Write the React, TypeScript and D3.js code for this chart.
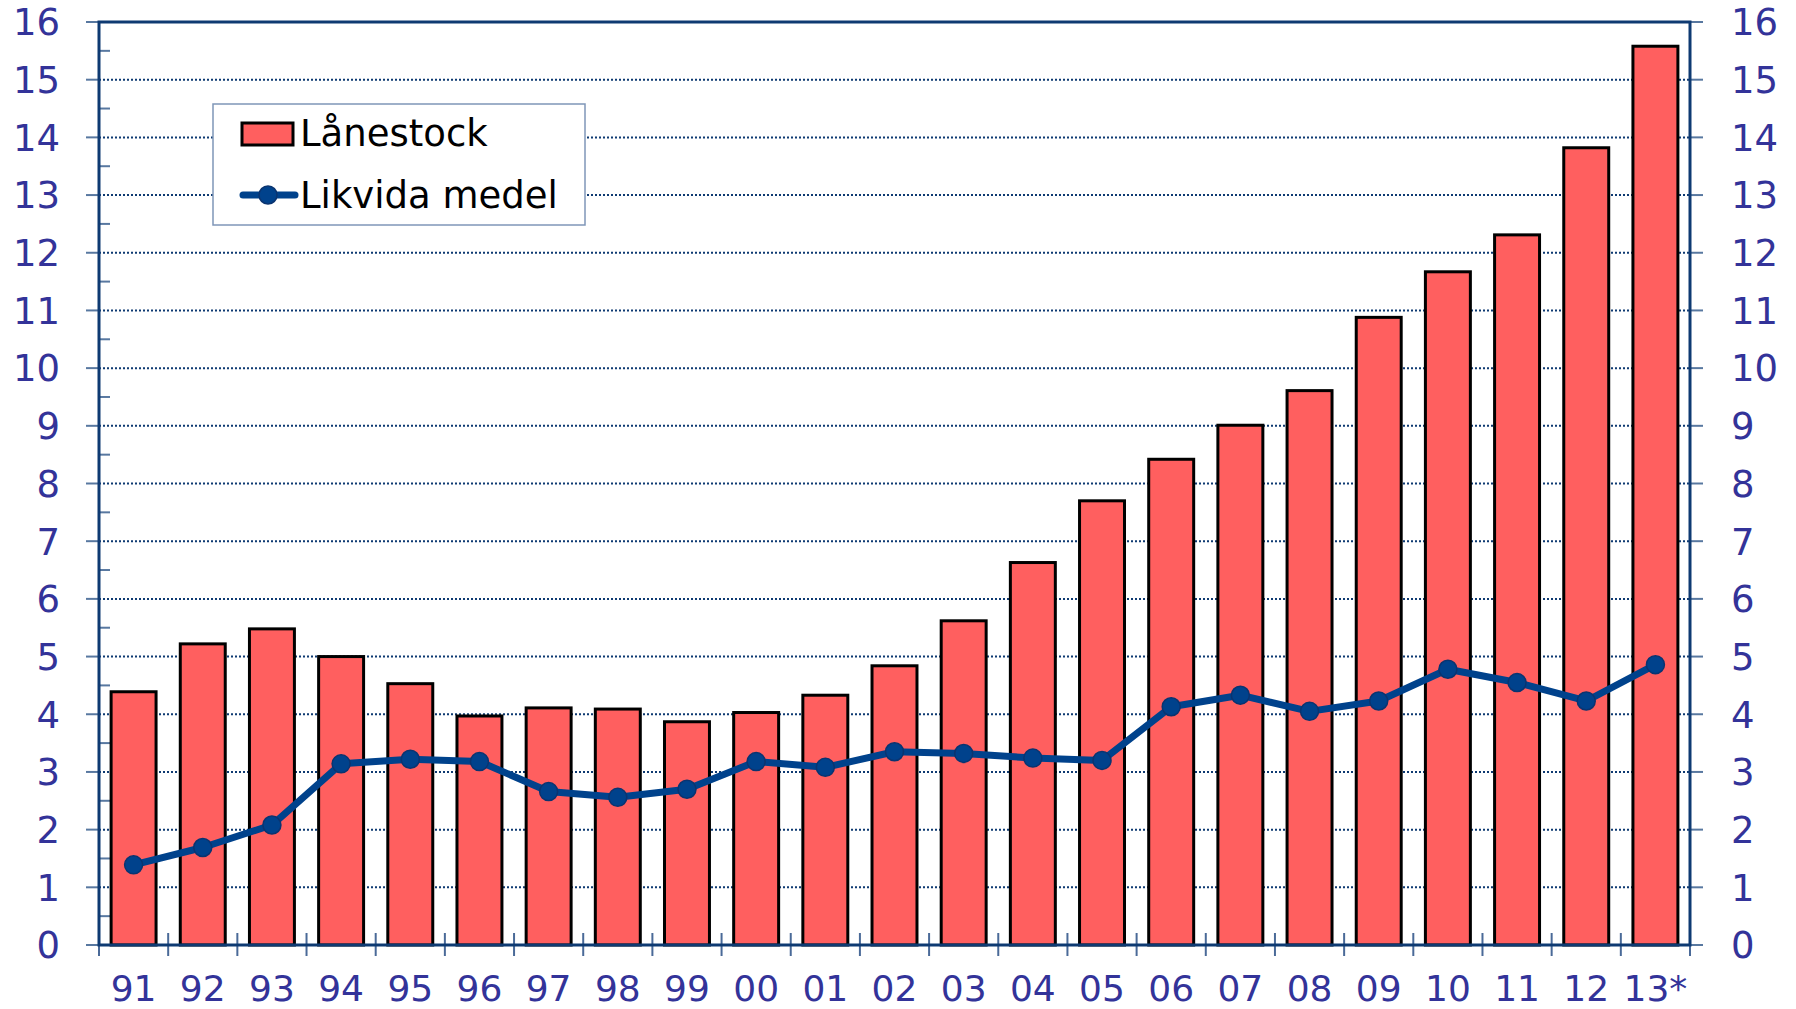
import React, { useEffect } from "react";
import * as d3 from "d3";

const categories = ["91","92","93","94","95","96","97","98","99","00","01","02","03","04","05","06","07","08","09","10","11","12","13*"];
const lanestock = [4.39,5.22,5.48,5.0,4.53,3.97,4.11,4.09,3.87,4.03,4.33,4.84,5.62,6.63,7.7,8.42,9.01,9.61,10.88,11.67,12.31,13.82,15.58];
const likvida = [1.39,1.69,2.08,3.14,3.22,3.18,2.66,2.56,2.7,3.18,3.08,3.35,3.32,3.24,3.2,4.13,4.33,4.05,4.23,4.78,4.55,4.23,4.86];
const yTicks = d3.range(0, 17, 1);
const legendLabels = ["Lånestock", "Likvida medel"];

const W = 1796, H = 1009;
const left = 99, right = 1690, top = 22, bottom = 945;
const labelColor = "#333399";
const frameColor = "#0E3A72";
const lineColor = "#00428C";
const barColor = "#FF5F5F";
const font = "'DejaVu Sans', Verdana, sans-serif";

export default function App() {
  useEffect(() => { document.body.style.margin = "0"; }, []);
  const x = d3.scaleBand<string>().domain(categories).range([left, right]).padding(0);
  const y = d3.scaleLinear().domain([0, 16]).range([bottom, top]);
  const bw = x.bandwidth() * 0.65;
  const cx = (c: string) => (x(c) as number) + x.bandwidth() / 2;
  const line = d3.line<number>().x((_, i) => cx(categories[i])).y(d => y(d));
  const minor = d3.range(0.5, 16, 1);
  const bounds = categories.map(c => x(c) as number).concat([right]);

  return (
    <svg width={W} height={H} style={{ display: "block", background: "#fff" }}>
      {yTicks.filter(t => t > 0 && t < 16).map(t => (
        <line key={"g" + t} x1={left} x2={right} y1={y(t)} y2={y(t)} stroke={frameColor} strokeWidth={2} strokeDasharray="2 2" />
      ))}
      {minor.map(t => (
        <line key={"m" + t} x1={left} x2={left + 11} y1={y(t)} y2={y(t)} stroke="#5878A0" strokeWidth={2} />
      ))}
      {yTicks.map(t => (
        <g key={"t" + t}>
          <line x1={left - 13} x2={left} y1={y(t)} y2={y(t)} stroke="#5878A0" strokeWidth={2} />
          <line x1={right} x2={right + 13} y1={y(t)} y2={y(t)} stroke="#5878A0" strokeWidth={2} />
          <text x={60} y={y(t)} dy="0.36em" textAnchor="end" fill={labelColor} fontFamily={font} fontSize={37}>{t}</text>
          <text x={1731} y={y(t)} dy="0.36em" textAnchor="start" fill={labelColor} fontFamily={font} fontSize={37}>{t}</text>
        </g>
      ))}
      {bounds.map((b, i) => (
        <line key={"b" + i} x1={b} x2={b} y1={bottom - 12} y2={bottom + 11} stroke="#4A6A98" strokeWidth={2} />
      ))}
      {lanestock.map((v, i) => (
        <rect key={"r" + i} x={cx(categories[i]) - bw / 2} y={y(v)} width={bw} height={bottom - y(v)} fill={barColor} stroke="#000" strokeWidth={3} />
      ))}
      <rect x={left} y={top} width={right - left} height={bottom - top} fill="none" stroke={frameColor} strokeWidth={3} />
      <path d={line(likvida) || ""} fill="none" stroke={lineColor} strokeWidth={7} strokeLinejoin="round" />
      {likvida.map((v, i) => (
        <circle key={"c" + i} cx={cx(categories[i])} cy={y(v)} r={9} fill={lineColor} stroke="#0A3470" strokeWidth={1.5} />
      ))}
      {categories.map(c => (
        <text key={"x" + c} x={cx(c)} y={1001} textAnchor="middle" fill={labelColor} fontFamily={font} fontSize={36}>{c}</text>
      ))}
      <rect x={213} y={104} width={372} height={121} fill="#fff" stroke="#7F96B8" strokeWidth={1.5} />
      <rect x={242} y={123} width={51} height={22} fill={barColor} stroke="#000" strokeWidth={3} />
      <text x={300} y={146} fill="#000" fontFamily={font} fontSize={37}>{legendLabels[0]}</text>
      <line x1={243} x2={295} y1={195} y2={195} stroke={lineColor} strokeWidth={7} strokeLinecap="round" />
      <circle cx={268} cy={195} r={9} fill={lineColor} stroke="#0A3470" strokeWidth={1.5} />
      <text x={300} y={208} fill="#000" fontFamily={font} fontSize={37}>{legendLabels[1]}</text>
    </svg>
  );
}
